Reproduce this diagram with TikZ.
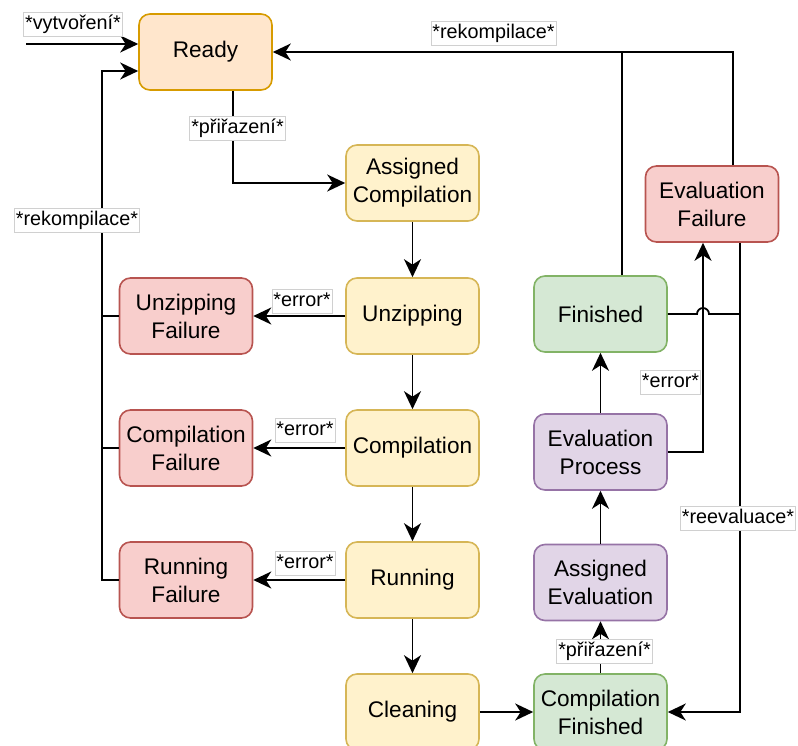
\documentclass[tikz,border=0pt]{standalone}
\usepackage{fontspec}
\setmainfont{Liberation Sans}
\usetikzlibrary{arrows.meta}

\definecolor{orfill}{HTML}{FFE6CC}\definecolor{orline}{HTML}{D79B00}
\definecolor{yefill}{HTML}{FFF2CC}\definecolor{yeline}{HTML}{D6B656}
\definecolor{rdfill}{HTML}{F8CECC}\definecolor{rdline}{HTML}{B85450}
\definecolor{grfill}{HTML}{D5E8D4}\definecolor{grline}{HTML}{82B366}
\definecolor{pufill}{HTML}{E1D5E7}\definecolor{puline}{HTML}{9673A6}
\definecolor{lblframe}{HTML}{D0D0D0}

\begin{document}
\begin{tikzpicture}[x=1pt,y=-1pt,
  state/.style={draw, rounded corners=11pt, line width=1.6pt,
    minimum width=133pt, minimum height=76pt, inner sep=0pt,
    align=center, font=\fontsize{22.6}{28}\selectfont},
  readyst/.style={state, fill=orfill, draw=orline},
  workst/.style={state, fill=yefill, draw=yeline},
  failst/.style={state, fill=rdfill, draw=rdline},
  donest/.style={state, fill=grfill, draw=grline},
  evalst/.style={state, fill=pufill, draw=puline},
  lbl/.style={fill=white, draw=lblframe, line width=0.6pt,
    font=\fontsize{19.8}{22}\selectfont, text height=14.5pt, text depth=4.5pt,
    inner xsep=1.5pt, inner ysep=2.5pt},
  wire/.style={line width=1.8pt, draw=black},
  arr/.style={wire, -{Stealth[length=18pt, width=17pt, inset=5.5pt]}}
]
\useasboundingbox (0,0) rectangle (798,745);

% states
\node[readyst] (ready) at (205.5,52) {Ready};
\node[workst] (ac)    at (412.5,183) {Assigned\\Compilation};
\node[workst] (unz)   at (412.5,316) {Unzipping};
\node[workst] (comp)  at (412.5,448) {Compilation};
\node[workst] (run)   at (412.5,580) {Running};
\node[workst] (clean) at (412.5,712) {Cleaning};

\node[failst] (uf) at (186,316) {Unzipping\\Failure};
\node[failst] (cf) at (186,448) {Compilation\\Failure};
\node[failst] (rf) at (186,580) {Running\\Failure};

\node[donest] (fin)  at (600.5,314) {Finished};
\node[failst] (ef)   at (712,204) {Evaluation\\Failure};
\node[evalst] (ep)   at (600.5,452) {Evaluation\\Process};
\node[evalst] (ae)   at (600.5,582.5) {Assigned\\Evaluation};
\node[donest] (cfin) at (600.5,712) {Compilation\\Finished};

% helper points
\coordinate (start) at (26,44);
\coordinate (lbus) at (102,71);
\coordinate (errx) at (703,452);
\coordinate (rbus) at (740,314);

% creation
\draw[arr] (start) -- (start -| ready.west);
\node[lbl] (lvyt) at (73,24) {*vytvoření*};

% assignment of compilation
\draw[arr] ([xshift=27.5pt]ready.south) -- ([xshift=27.5pt]ready.south |- ac.west) -- (ac.west);
\node[lbl] (lpri1) at (237.5,128) {*přiřazení*};

% compilation pipeline
\draw[arr] (ac) -- (unz);
\draw[arr] (unz) -- (comp);
\draw[arr] (comp) -- (run);
\draw[arr] (run) -- (clean);
\draw[arr] (clean) -- (cfin);

% errors of the pipeline
\draw[arr] (unz) -- (uf);
\draw[arr] (comp) -- (cf);
\draw[arr] (run) -- (rf);
\node[lbl] (le1) at (302,301.5) {*error*};
\node[lbl] (le2) at (305,430.5) {*error*};
\node[lbl] (le3) at (305,563) {*error*};

% recompilation after failure
\draw[arr] (rf.west) -| (lbus) -- (lbus -| ready.west);
\draw[wire] (uf.west) -- (uf.west -| lbus);
\draw[wire] (cf.west) -- (cf.west -| lbus);
\node[lbl] (lrek1) at (77,220) {*rekompilace*};

% evaluation
\draw[arr] (cfin) -- (ae);
\node[lbl] (lpri2) at (604.5,651.5) {*přiřazení*};
\draw[arr] (ae) -- (ep);
\draw[arr] (ep) -- (fin);
\draw[arr] (ep.east) -- (errx) -- (errx |- ef.south);
\node[lbl] (le4) at (670.5,382.5) {*error*};

% recompilation from the right
\draw[arr] ([xshift=21pt]ef.north) |- (ready.east);
\draw[wire] ([xshift=21.5pt]fin.north) -- ([xshift=21.5pt]fin.north |- ready.east);
\node[lbl] (lrek2) at (493.5,33) {*rekompilace*};

% reevaluation
\draw[arr] ([xshift=28pt]ef.south) -- ([xshift=28pt]ef.south |- cfin.east) -- (cfin.east);
\draw[wire] (fin.east) -- ([xshift=-6pt]errx |- fin.east)
  arc[start angle=180, end angle=0, radius=6pt] -- (rbus);
\node[lbl] (lree) at (738,518) {*reevaluace*};
\end{tikzpicture}
\end{document}
